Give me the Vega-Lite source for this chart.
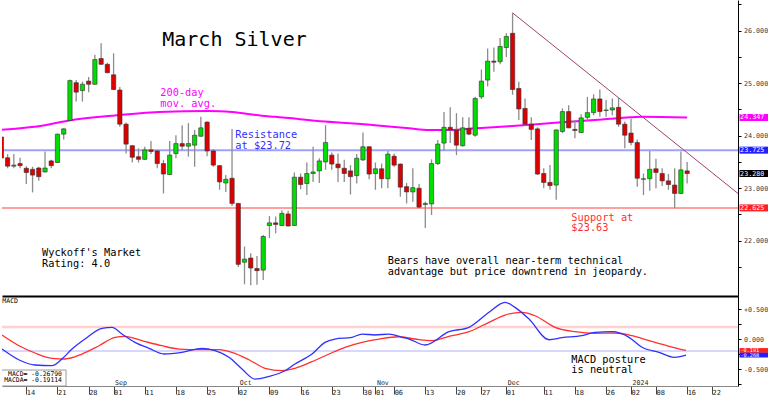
{
"$schema":"https://vega.github.io/schema/vega-lite/v6.json",
"padding":0,
"background":"#ffffff",
"spacing":0,
"config":{"view":{"stroke":null},"scale":{"continuousPadding":0},"text":{"font":"DejaVu Sans Mono"},"axis":{"labelFont":"DejaVu Sans Mono","labelOverlap":false,"labelSeparation":0}},
"resolve":{"scale":{"color":"independent"}},
"datasets":{
"candles":[
{"t":0,"o":23.975,"h":24.05,"l":23.5,"c":23.575},
{"t":1,"o":23.58,"h":23.65,"l":23.38,"c":23.42},
{"t":2,"o":23.42,"h":23.65,"l":23.38,"c":23.44},
{"t":3,"o":23.47,"h":23.58,"l":23.38,"c":23.43},
{"t":4,"o":23.38,"h":23.42,"l":23.08,"c":23.3},
{"t":5,"o":23.36,"h":23.41,"l":22.92,"c":23.25},
{"t":6,"o":23.385,"h":23.41,"l":23.14,"c":23.22},
{"t":7,"o":23.31,"h":23.7,"l":23.3,"c":23.385},
{"t":8,"o":23.52,"h":23.54,"l":23.38,"c":23.43},
{"t":9,"o":23.49,"h":24.04,"l":23.48,"c":24.03},
{"t":10,"o":24.03,"h":24.14,"l":23.93,"c":24.13},
{"t":11,"o":24.29,"h":25.07,"l":24.29,"c":25.05},
{"t":12,"o":25.01,"h":25.06,"l":24.65,"c":24.83},
{"t":13,"o":24.86,"h":25.03,"l":24.65,"c":24.98},
{"t":14,"o":25.04,"h":25.12,"l":24.83,"c":24.98},
{"t":15,"o":24.98,"h":25.54,"l":24.97,"c":25.45},
{"t":16,"o":25.47,"h":25.76,"l":25.35,"c":25.36},
{"t":17,"o":25.36,"h":25.39,"l":25.19,"c":25.2},
{"t":18,"o":25.16,"h":25.57,"l":24.87,"c":24.88},
{"t":19,"o":24.87,"h":24.93,"l":24.17,"c":24.22},
{"t":20,"o":24.22,"h":24.25,"l":23.66,"c":23.84},
{"t":21,"o":23.81,"h":23.82,"l":23.49,"c":23.59},
{"t":22,"o":23.6,"h":23.76,"l":23.49,"c":23.55},
{"t":23,"o":23.55,"h":23.79,"l":23.54,"c":23.73},
{"t":24,"o":23.73,"h":23.9,"l":23.65,"c":23.7},
{"t":25,"o":23.71,"h":23.73,"l":23.38,"c":23.47},
{"t":26,"o":23.47,"h":23.54,"l":22.9,"c":23.27},
{"t":27,"o":23.26,"h":23.9,"l":23.25,"c":23.63},
{"t":28,"o":23.66,"h":24.01,"l":23.57,"c":23.85},
{"t":29,"o":23.85,"h":24.2,"l":23.73,"c":23.8},
{"t":30,"o":23.8,"h":24.24,"l":23.6,"c":23.85},
{"t":31,"o":23.82,"h":24.11,"l":23.41,"c":24.01},
{"t":32,"o":23.99,"h":24.36,"l":23.98,"c":24.15},
{"t":33,"o":24.26,"h":24.27,"l":23.61,"c":23.71},
{"t":34,"o":23.71,"h":23.74,"l":23.41,"c":23.44},
{"t":35,"o":23.43,"h":23.44,"l":22.97,"c":23.12},
{"t":36,"o":23.1,"h":23.25,"l":22.93,"c":23.17},
{"t":37,"o":23.19,"h":24.13,"l":22.66,"c":22.71},
{"t":38,"o":22.71,"h":22.72,"l":21.5,"c":21.55},
{"t":39,"o":21.59,"h":21.89,"l":21.17,"c":21.65},
{"t":40,"o":21.67,"h":21.76,"l":21.15,"c":21.48},
{"t":41,"o":21.47,"h":21.71,"l":21.16,"c":21.43},
{"t":42,"o":21.44,"h":22.11,"l":21.25,"c":22.08},
{"t":43,"o":22.29,"h":22.47,"l":22.05,"c":22.34},
{"t":44,"o":22.34,"h":22.46,"l":22.14,"c":22.31},
{"t":45,"o":22.29,"h":22.58,"l":22.28,"c":22.52},
{"t":46,"o":22.51,"h":22.57,"l":22.27,"c":22.28},
{"t":47,"o":22.29,"h":23.3,"l":22.28,"c":23.21},
{"t":48,"o":23.21,"h":23.28,"l":22.98,"c":23.07},
{"t":49,"o":23.09,"h":23.49,"l":22.87,"c":23.28},
{"t":50,"o":23.28,"h":23.79,"l":23.12,"c":23.31},
{"t":51,"o":23.33,"h":23.57,"l":23.1,"c":23.52},
{"t":52,"o":23.5,"h":24.2,"l":23.35,"c":23.87},
{"t":53,"o":23.63,"h":23.68,"l":23.35,"c":23.46},
{"t":54,"o":23.46,"h":23.66,"l":23.12,"c":23.39},
{"t":55,"o":23.38,"h":23.54,"l":23.12,"c":23.28},
{"t":56,"o":23.33,"h":23.44,"l":22.88,"c":23.22},
{"t":57,"o":23.24,"h":23.65,"l":23.09,"c":23.57},
{"t":58,"o":23.54,"h":24.06,"l":23.52,"c":23.79},
{"t":59,"o":23.79,"h":23.8,"l":23.17,"c":23.27},
{"t":60,"o":23.28,"h":23.49,"l":22.97,"c":23.37},
{"t":61,"o":23.37,"h":23.47,"l":23.0,"c":23.18},
{"t":62,"o":23.18,"h":23.71,"l":23.0,"c":23.65},
{"t":63,"o":23.61,"h":23.66,"l":23.41,"c":23.44},
{"t":64,"o":23.46,"h":23.47,"l":22.84,"c":23.02},
{"t":65,"o":23.03,"h":23.1,"l":22.71,"c":22.93},
{"t":66,"o":22.93,"h":23.38,"l":22.74,"c":23.01},
{"t":67,"o":23.0,"h":23.08,"l":22.62,"c":22.64},
{"t":68,"o":22.69,"h":22.74,"l":22.24,"c":22.71},
{"t":69,"o":22.7,"h":23.55,"l":22.49,"c":23.47},
{"t":70,"o":23.47,"h":23.92,"l":23.44,"c":23.84},
{"t":71,"o":23.86,"h":24.45,"l":23.72,"c":24.16},
{"t":72,"o":24.16,"h":24.54,"l":23.86,"c":24.11},
{"t":73,"o":24.11,"h":24.43,"l":23.63,"c":23.82},
{"t":74,"o":23.81,"h":24.35,"l":23.79,"c":24.15},
{"t":75,"o":24.14,"h":24.35,"l":24.01,"c":24.03},
{"t":76,"o":24.01,"h":24.74,"l":23.98,"c":24.71},
{"t":77,"o":24.74,"h":25.26,"l":24.7,"c":25.04},
{"t":78,"o":25.06,"h":25.66,"l":24.94,"c":25.42},
{"t":79,"o":25.42,"h":25.68,"l":25.22,"c":25.4},
{"t":80,"o":25.41,"h":25.86,"l":25.36,"c":25.7},
{"t":81,"o":25.68,"h":25.95,"l":25.5,"c":25.89},
{"t":82,"o":25.95,"h":26.34,"l":24.78,"c":24.88},
{"t":83,"o":24.9,"h":25.03,"l":24.3,"c":24.51},
{"t":84,"o":24.52,"h":24.71,"l":24.2,"c":24.22},
{"t":85,"o":24.22,"h":24.35,"l":23.92,"c":24.12},
{"t":86,"o":24.13,"h":24.16,"l":23.25,"c":23.27},
{"t":87,"o":23.28,"h":23.38,"l":23.0,"c":23.11},
{"t":88,"o":23.11,"h":23.44,"l":22.97,"c":23.05},
{"t":89,"o":23.06,"h":24.12,"l":22.78,"c":24.11},
{"t":90,"o":24.08,"h":24.52,"l":24.05,"c":24.46},
{"t":91,"o":24.46,"h":24.58,"l":24.14,"c":24.15},
{"t":92,"o":24.12,"h":24.3,"l":23.95,"c":24.1},
{"t":93,"o":24.06,"h":24.41,"l":24.05,"c":24.34},
{"t":94,"o":24.35,"h":24.74,"l":24.27,"c":24.44},
{"t":95,"o":24.44,"h":24.79,"l":24.39,"c":24.7},
{"t":96,"o":24.7,"h":24.88,"l":24.36,"c":24.46},
{"t":97,"o":24.48,"h":24.68,"l":24.36,"c":24.49},
{"t":98,"o":24.49,"h":24.71,"l":24.39,"c":24.53},
{"t":99,"o":24.54,"h":24.72,"l":24.17,"c":24.22},
{"t":100,"o":24.22,"h":24.27,"l":23.76,"c":24.01},
{"t":101,"o":24.05,"h":24.33,"l":23.82,"c":23.87},
{"t":102,"o":23.87,"h":23.93,"l":23.03,"c":23.19},
{"t":103,"o":23.17,"h":23.28,"l":22.87,"c":23.18},
{"t":104,"o":23.18,"h":23.71,"l":22.95,"c":23.36},
{"t":105,"o":23.37,"h":23.56,"l":23.0,"c":23.3},
{"t":106,"o":23.28,"h":23.38,"l":23.04,"c":23.14},
{"t":107,"o":23.14,"h":23.27,"l":22.97,"c":23.07},
{"t":108,"o":23.06,"h":23.38,"l":22.62,"c":22.9},
{"t":109,"o":22.9,"h":23.7,"l":22.89,"c":23.35},
{"t":110,"o":23.33,"h":23.5,"l":23.09,"c":23.28}
],
"ma":[
{"t":0.1,"ma":24.115},{"t":7.0,"ma":24.2},{"t":10.85,"ma":24.29},{"t":17.75,"ma":24.38},{"t":25.28,"ma":24.45},{"t":33.3,"ma":24.47},{"t":37.0,"ma":24.45},{"t":41.8,"ma":24.38},{"t":43.9,"ma":24.36},{"t":51.9,"ma":24.27},{"t":59.9,"ma":24.2},{"t":65.4,"ma":24.14},{"t":68.6,"ma":24.11},{"t":71.8,"ma":24.11},{"t":76.0,"ma":24.14},{"t":81.4,"ma":24.18},{"t":88.3,"ma":24.24},{"t":96.35,"ma":24.31},{"t":102.8,"ma":24.36},{"t":110.0,"ma":24.347}
],
"trend":[{"t":82,"p":26.34},{"t":118.16,"p":22.9}],
"levels":[
{"k":"MA","p":24.347,"label":"24.347"},{"k":"Res","p":23.725,"label":"23.725"},{"k":"Last","p":23.28,"label":"23.280"},{"k":"Sup","p":22.625,"label":"22.625"}
],
"macd":[
{"t":0.1,"v":-0.167},{"t":2.78,"v":-0.345},{"t":5.39,"v":-0.433},{"t":8.12,"v":-0.445},{"t":9.72,"v":-0.333},{"t":11.33,"v":-0.167},{"t":13.41,"v":0.0},{"t":16.14,"v":0.178},{"t":17.75,"v":0.195},{"t":19.35,"v":0.083},{"t":21.43,"v":-0.055},{"t":23.68,"v":-0.155},{"t":26.09,"v":-0.25},{"t":28.97,"v":-0.222},{"t":32.18,"v":-0.155},{"t":34.27,"v":-0.195},{"t":36.51,"v":-0.305},{"t":38.6,"v":-0.5},{"t":40.68,"v":-0.667},{"t":42.93,"v":-0.622},{"t":45.5,"v":-0.528},{"t":47.1,"v":-0.417},{"t":49.83,"v":-0.25},{"t":51.91,"v":-0.055},{"t":53.52,"v":0.0},{"t":56.24,"v":0.028},{"t":57.85,"v":0.083},{"t":59.93,"v":0.067},{"t":62.18,"v":0.083},{"t":64.26,"v":0.028},{"t":65.39,"v":0.0},{"t":67.95,"v":-0.1},{"t":71.8,"v":0.122},{"t":75.01,"v":0.195},{"t":78.22,"v":0.445},{"t":80.79,"v":0.612},{"t":82.39,"v":0.528},{"t":84.64,"v":0.333},{"t":87.85,"v":-0.012},{"t":89.93,"v":0.022},{"t":93.14,"v":0.055},{"t":95.22,"v":0.112},{"t":97.95,"v":0.122},{"t":100.68,"v":0.028},{"t":102.76,"v":-0.138},{"t":105.49,"v":-0.222},{"t":107.9,"v":-0.305},{"t":109.82,"v":-0.268}
],
"signal":[
{"t":0.1,"v":0.067},{"t":2.83,"v":-0.112},{"t":5.39,"v":-0.233},{"t":8.12,"v":-0.322},{"t":10.21,"v":-0.333},{"t":12.93,"v":-0.25},{"t":15.66,"v":-0.112},{"t":18.23,"v":0.028},{"t":19.83,"v":0.045},{"t":22.56,"v":-0.028},{"t":25.77,"v":-0.112},{"t":28.49,"v":-0.167},{"t":32.18,"v":-0.178},{"t":34.91,"v":-0.178},{"t":36.99,"v":-0.222},{"t":39.72,"v":-0.345},{"t":42.29,"v":-0.488},{"t":45.02,"v":-0.528},{"t":47.1,"v":-0.488},{"t":49.83,"v":-0.378},{"t":52.55,"v":-0.25},{"t":55.12,"v":-0.138},{"t":57.85,"v":-0.055},{"t":60.58,"v":0.0},{"t":63.78,"v":0.038},{"t":66.35,"v":0.0},{"t":69.08,"v":-0.028},{"t":71.8,"v":0.045},{"t":75.01,"v":0.122},{"t":78.22,"v":0.278},{"t":80.79,"v":0.4},{"t":83.51,"v":0.445},{"t":85.6,"v":0.388},{"t":88.81,"v":0.195},{"t":92.02,"v":0.122},{"t":95.22,"v":0.095},{"t":98.43,"v":0.1},{"t":101.16,"v":0.055},{"t":103.89,"v":-0.028},{"t":107.09,"v":-0.122},{"t":109.82,"v":-0.191}
],
"macdlast":[{"k":"MACDA","v":-0.191,"label":"-0.191"},{"k":"MACD","v":-0.268,"label":"-0.268"}],
"months":[{"t":18,"label":"Sep"},{"t":38,"label":"Oct"},{"t":60,"label":"Nov"},{"t":81,"label":"Dec"},{"t":101,"label":"2024"}]
},
"vconcat":[
{"width":736,"height":296,"layer":[
{"data":{"values":[{}]},"mark":{"type":"rule","color":"#a0a0ff","strokeWidth":2},"encoding":{"y":{"datum":23.725,"scale":{"domain":[20.947,26.585],"nice":false,"zero":false,"padding":0}}}},
{"data":{"values":[{}]},"mark":{"type":"rule","color":"#ffa0a0","strokeWidth":2},"encoding":{"y":{"datum":22.625,"scale":{"domain":[20.947,26.585],"nice":false,"zero":false,"padding":0}}}},
{"data":{"name":"ma"},"mark":{"type":"line","color":"#ff00ff","strokeWidth":2,"interpolate":"monotone","clip":true},"encoding":{"x":{"field":"t","type":"quantitative","scale":{"domain":[0.1,118.16],"nice":false,"zero":false,"padding":0}},"y":{"field":"ma","type":"quantitative","scale":{"domain":[20.947,26.585],"nice":false,"zero":false,"padding":0}}}},
{"data":{"name":"trend"},"mark":{"type":"line","color":"#a04070","strokeWidth":1,"clip":true},"encoding":{"x":{"field":"t","type":"quantitative","scale":{"domain":[0.1,118.16],"nice":false,"zero":false,"padding":0}},"y":{"field":"p","type":"quantitative","scale":{"domain":[20.947,26.585],"nice":false,"zero":false,"padding":0}}}},
{"data":{"name":"candles"},"mark":{"type":"rule","color":"#8c8c8c","strokeWidth":1.3,"clip":true},"encoding":{"x":{"field":"t","type":"quantitative","scale":{"domain":[0.1,118.16],"nice":false,"zero":false,"padding":0}},"y":{"field":"l","type":"quantitative","scale":{"domain":[20.947,26.585],"nice":false,"zero":false,"padding":0}},"y2":{"field":"h"}}},
{"data":{"name":"candles"},"mark":{"type":"bar","width":4.3,"stroke":"#303030","strokeWidth":0.6,"clip":true},"encoding":{
"x":{"field":"t","type":"quantitative","scale":{"domain":[0.1,118.16],"nice":false,"zero":false,"padding":0},"axis":{"labels":false,"ticks":false,"domainColor":"#000000","domainWidth":2,"title":null,"grid":false}},
"y":{"field":"o","type":"quantitative","scale":{"domain":[20.947,26.585],"nice":false,"zero":false,"padding":0},"axis":{"orient":"right","values":[21.5,22,22.5,23,23.5,24,24.5,25,25.5,26,26.5],"tickCount":100,"labelExpr":"datum.value % 1 == 0 ? format(datum.value, '.3f') : ''","labelOverlap":false,"tickSize":3,"tickColor":"#000000","domainColor":"#000000","labelFontSize":6.7,"labelColor":"#333333","labelPadding":2.5,"title":null,"grid":false}},
"y2":{"field":"c"},
"color":{"condition":{"test":"datum.c >= datum.o","value":"#00dd00"},"value":"#dd0000"}}},
{"data":{"values":[{}]},"mark":{"type":"text","text":"March Silver","fontSize":20,"align":"left","baseline":"alphabetic","color":"#000000"},"encoding":{"x":{"datum":25.8},"y":{"datum":25.71}}},
{"data":{"values":[{}]},"mark":{"type":"text","text":"200-day\nmov. avg.","lineBreak":"\n","lineHeight":10.8,"fontSize":10.3,"align":"left","baseline":"alphabetic","color":"#ff00ff"},"encoding":{"x":{"datum":25.49},"y":{"datum":24.762}}},
{"data":{"values":[{}]},"mark":{"type":"text","text":"Resistance\nat $23.72","lineBreak":"\n","lineHeight":10.5,"fontSize":10.3,"align":"left","baseline":"alphabetic","color":"#3030ff"},"encoding":{"x":{"datum":37.52},"y":{"datum":23.95}}},
{"data":{"values":[{}]},"mark":{"type":"text","text":"Support at\n$23.63","lineBreak":"\n","lineHeight":10.5,"fontSize":10.3,"align":"left","baseline":"alphabetic","color":"#ff3030"},"encoding":{"x":{"datum":91.42},"y":{"datum":22.381}}},
{"data":{"values":[{}]},"mark":{"type":"text","text":"Wyckoff's Market\nRating: 4.0","lineBreak":"\n","lineHeight":10.7,"fontSize":10.3,"align":"left","baseline":"alphabetic","color":"#000000"},"encoding":{"x":{"datum":6.52},"y":{"datum":21.712}}},
{"data":{"values":[{}]},"mark":{"type":"text","text":"Bears have overall near-term technical\nadvantage but price downtrend in jeopardy.","lineBreak":"\n","lineHeight":10.5,"fontSize":10.3,"align":"left","baseline":"alphabetic","color":"#000000"},"encoding":{"x":{"datum":61.97},"y":{"datum":21.552}}},
{"data":{"name":"levels"},"mark":{"type":"tick","orient":"horizontal","size":29,"thickness":7,"opacity":1},"encoding":{"x":{"datum":120.73},"y":{"field":"p","type":"quantitative"},"color":{"field":"k","type":"nominal","scale":{"domain":["MA","Res","Last","Sup"],"range":["#ff00ff","#2020ff","#000000","#ff2020"]},"legend":null}}},
{"data":{"name":"levels"},"mark":{"type":"text","fontSize":6.7,"align":"left","baseline":"middle","color":"#ffffff"},"encoding":{"x":{"datum":118.5},"y":{"field":"p","type":"quantitative"},"text":{"field":"label"}}}
]},
{"width":736,"height":90,"layer":[
{"data":{"values":[{}]},"mark":{"type":"rule","color":"#ffd0d0","strokeWidth":2.5},"encoding":{"y":{"datum":0.2,"scale":{"domain":[-0.783,0.717],"nice":false,"zero":false,"padding":0}}}},
{"data":{"values":[{}]},"mark":{"type":"rule","color":"#b0b0ff","strokeWidth":1},"encoding":{"y":{"datum":-0.2,"scale":{"domain":[-0.783,0.717],"nice":false,"zero":false,"padding":0}}}},
{"data":{"name":"signal"},"mark":{"type":"line","color":"#ff3030","strokeWidth":1.3,"interpolate":"monotone","clip":true},"encoding":{"x":{"field":"t","type":"quantitative","scale":{"domain":[0.1,118.16],"nice":false,"zero":false,"padding":0}},"y":{"field":"v","type":"quantitative","scale":{"domain":[-0.783,0.717],"nice":false,"zero":false,"padding":0}}}},
{"data":{"name":"macd"},"mark":{"type":"line","color":"#3030ff","strokeWidth":1.3,"interpolate":"monotone","clip":true},"encoding":{
"x":{"field":"t","type":"quantitative","scale":{"domain":[0.1,118.16],"nice":false,"zero":false,"padding":0},"axis":{"values":[4,9,14,18,23,28,33,38,43,48,53,58,60,63,68,73,77,81,87,92,97,101,105,110,114],"tickCount":100,"labelExpr":"['14','21','28','01','11','18','25','02','09','16','23','30','01','06','13','20','27','01','11','18','26','02','08','16','22'][indexof([4,9,14,18,23,28,33,38,43,48,53,58,60,63,68,73,77,81,87,92,97,101,105,110,114], datum.value)]","tickSize":8,"tickColor":"#444444","domainColor":"#888888","labelAlign":"left","labelBaseline":"top","labelPadding":-6,"labelDx":2,"labelFontSize":7,"labelColor":"#222222","labelOverlap":false,"labelFlush":false,"labelBound":false,"title":null,"grid":false}},
"y":{"field":"v","type":"quantitative","scale":{"domain":[-0.783,0.717],"nice":false,"zero":false,"padding":0},"axis":{"orient":"right","values":[-0.75,-0.5,-0.25,0,0.25,0.5],"tickCount":100,"labelExpr":"(datum.value*2) % 1 == 0 ? (datum.value > 0 ? '+' : '') + replace(format(datum.value, '.3f'), '\u2212', '-') : ''","labelOverlap":false,"tickSize":3,"tickColor":"#000000","domainColor":"#000000","labelFontSize":6.7,"labelColor":"#333333","labelPadding":2.5,"title":null,"grid":false}}}},
{"data":{"values":[{}]},"mark":{"type":"rect","fill":"#ffffff","stroke":"#999999","strokeWidth":1,"clip":true},"encoding":{"x":{"datum":-1},"x2":{"datum":10.37},"y":{"datum":-0.517},"y2":{"datum":-0.783}}},
{"data":{"values":[{}]},"mark":{"type":"text","text":"MACD=    -0.26790\nMACDA=    -0.19114","lineBreak":"\n","lineHeight":6.9,"fontSize":6.4,"align":"right","baseline":"alphabetic","color":"#000000","clip":true},"encoding":{"x":{"datum":9.72},"y":{"datum":-0.608}}},
{"data":{"values":[{}]},"mark":{"type":"text","text":"MACD","fontSize":6.5,"align":"left","baseline":"alphabetic","color":"#000000"},"encoding":{"x":{"datum":0.15},"y":{"datum":0.608}}},
{"data":{"values":[{}]},"mark":{"type":"text","text":"MACD posture\nis neutral","lineBreak":"\n","lineHeight":10.5,"fontSize":10.3,"align":"left","baseline":"alphabetic","color":"#000000"},"encoding":{"x":{"datum":91.42},"y":{"datum":-0.397}}},
{"data":{"name":"months"},"mark":{"type":"text","fontSize":6.6,"align":"left","baseline":"alphabetic","dx":1.5,"color":"#222222"},"encoding":{"x":{"field":"t","type":"quantitative"},"y":{"datum":-0.758},"text":{"field":"label"}}},
{"data":{"name":"macdlast"},"mark":{"type":"tick","orient":"horizontal","size":29,"thickness":4.8,"opacity":1},"encoding":{"x":{"datum":120.73},"y":{"field":"v","type":"quantitative"},"color":{"field":"k","type":"nominal","scale":{"domain":["MACD","MACDA"],"range":["#2020ff","#ff2020"]},"legend":null}}},
{"data":{"name":"macdlast"},"mark":{"type":"text","fontSize":5.2,"align":"left","baseline":"middle","color":"#ffffff"},"encoding":{"x":{"datum":118.55},"y":{"field":"v","type":"quantitative"},"text":{"field":"label"}}}
]}
]
}
